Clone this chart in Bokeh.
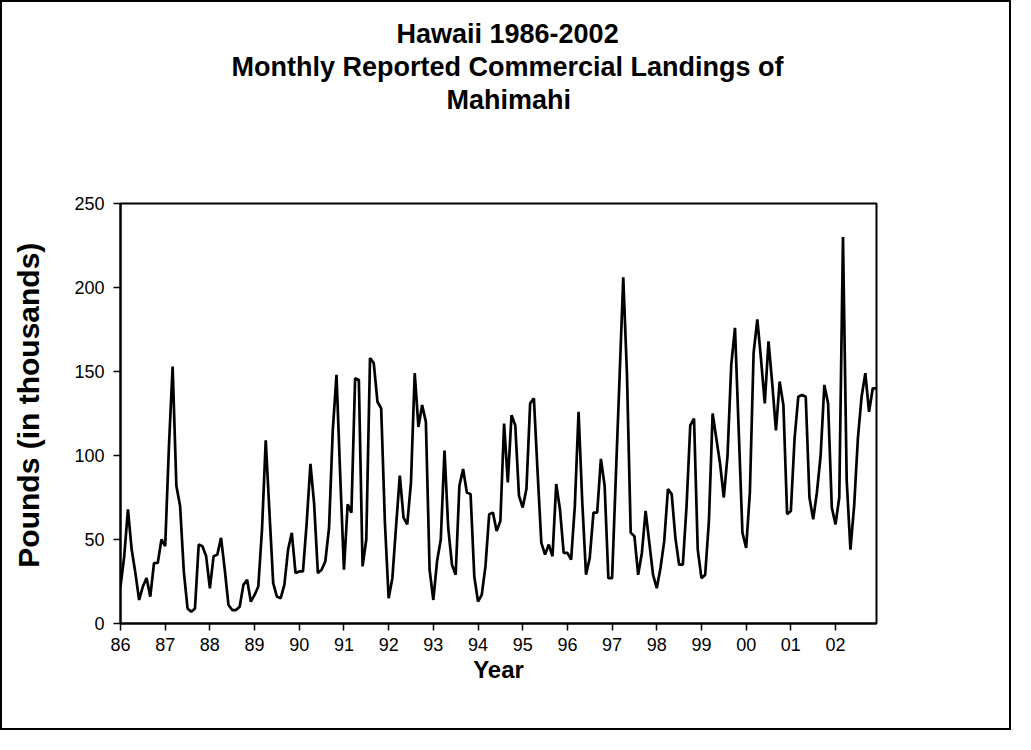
from bokeh.plotting import figure
from bokeh.models import FixedTicker, Range1d, Title
from bokeh.embed import file_html
from bokeh.resources import INLINE

year_labels = ["86", "87", "88", "89", "90", "91", "92", "93", "94",
               "95", "96", "97", "98", "99", "00", "01", "02"]

landings_1986 = [22, 40, 68, 44, 30, 14, 22, 27, 16, 36, 36, 50]
landings_1987 = [46, 105, 153, 82, 70, 31, 9, 7, 9, 47, 46, 40]
landings_1988 = [21, 40, 41, 51, 32, 11, 8, 8, 10, 23, 26, 13]
landings_1989 = [17, 22, 56, 109, 66, 24, 16, 15, 23, 44, 54, 30]
landings_1990 = [31, 31, 60, 95, 71, 30, 32, 37, 57, 115, 148, 88]
landings_1991 = [32, 71, 66, 146, 145, 34, 50, 158, 155, 132, 128, 60]
landings_1992 = [15, 27, 58, 88, 63, 59, 84, 149, 117, 130, 120, 32]
landings_1993 = [14, 37, 50, 103, 57, 35, 29, 82, 92, 78, 77, 28]
landings_1994 = [13, 17, 34, 65, 66, 55, 61, 119, 84, 124, 118, 76]
landings_1995 = [69, 80, 131, 134, 90, 48, 41, 47, 40, 83, 68, 42]
landings_1996 = [42, 38, 70, 126, 72, 29, 39, 66, 66, 98, 82, 27]
landings_1997 = [27, 87, 146, 206, 148, 54, 52, 29, 42, 67, 48, 29]
landings_1998 = [21, 33, 49, 80, 77, 51, 35, 35, 70, 118, 122, 44]
landings_1999 = [27, 29, 61, 125, 110, 95, 75, 100, 154, 176, 115, 54]
landings_2000 = [45, 78, 161, 181, 157, 131, 168, 143, 115, 144, 130, 65]
landings_2001 = [67, 110, 135, 136, 135, 75, 62, 78, 100, 142, 131, 69]
landings_2002 = [59, 75, 230, 85, 44, 70, 110, 135, 149, 126, 140, 140]

landings = (landings_1986 + landings_1987 + landings_1988 + landings_1989 +
            landings_1990 + landings_1991 + landings_1992 + landings_1993 +
            landings_1994 + landings_1995 + landings_1996 + landings_1997 +
            landings_1998 + landings_1999 + landings_2000 + landings_2001 +
            landings_2002)
months = list(range(len(landings)))

title_lines = ["Hawaii 1986-2002",
               "Monthly Reported Commercial Landings of",
               "Mahimahi"]

p = figure(width=1011, height=730, output_backend="svg", toolbar_location=None,
           x_range=Range1d(0, len(landings) - 1), y_range=Range1d(0, 250),
           min_border_left=118, min_border_right=137,
           min_border_top=201, min_border_bottom=109,
           styles={"border": "2px solid black"})

p.line(months, landings, line_color="black", line_width=2.7)

p.title.visible = False
# spacer between the title block and the plot frame
p.add_layout(Title(text=" ", text_font_size="10px", standoff=75), "above")
title_offsets = [276, 111, 326]
for line, off in zip(reversed(title_lines), reversed(title_offsets)):
    p.add_layout(Title(text=line, align="left", offset=off,
                       text_font="Liberation Sans", text_font_size="27px",
                       text_font_style="bold", text_color="black",
                       standoff=1), "above")

p.grid.visible = False
p.outline_line_color = "black"
p.outline_line_width = 2

p.yaxis.ticker = FixedTicker(ticks=[0, 50, 100, 150, 200, 250])
p.yaxis.axis_label = "\u00a0\u00a0Pounds (in thousands)"
p.xaxis.ticker = FixedTicker(ticks=[12 * i for i in range(len(year_labels))])
p.xaxis.major_label_overrides = {12 * i: lab for i, lab in enumerate(year_labels)}
p.xaxis.axis_label = "Year"

for ax in (p.xaxis[0], p.yaxis[0]):
    ax.axis_line_color = "black"
    ax.axis_line_width = 2
    ax.major_tick_line_color = "black"
    ax.major_tick_line_width = 1.5
    ax.major_tick_in = 0
    ax.major_tick_out = 7
    ax.minor_tick_line_color = None
    ax.major_label_text_font = "Liberation Sans"
    ax.major_label_text_font_size = "18px"
    ax.major_label_text_color = "black"
    ax.axis_label_text_font = "Liberation Sans"
    ax.axis_label_text_font_style = "bold"
    ax.axis_label_text_color = "black"

p.yaxis.major_label_standoff = 9
p.xaxis.major_label_standoff = 7
p.yaxis.axis_label_text_font_size = "30px"
p.xaxis.axis_label_text_font_size = "24px"
p.yaxis.axis_label_standoff = 26
p.xaxis.axis_label_standoff = 2

open("out.html", "w").write(file_html(p, INLINE))
